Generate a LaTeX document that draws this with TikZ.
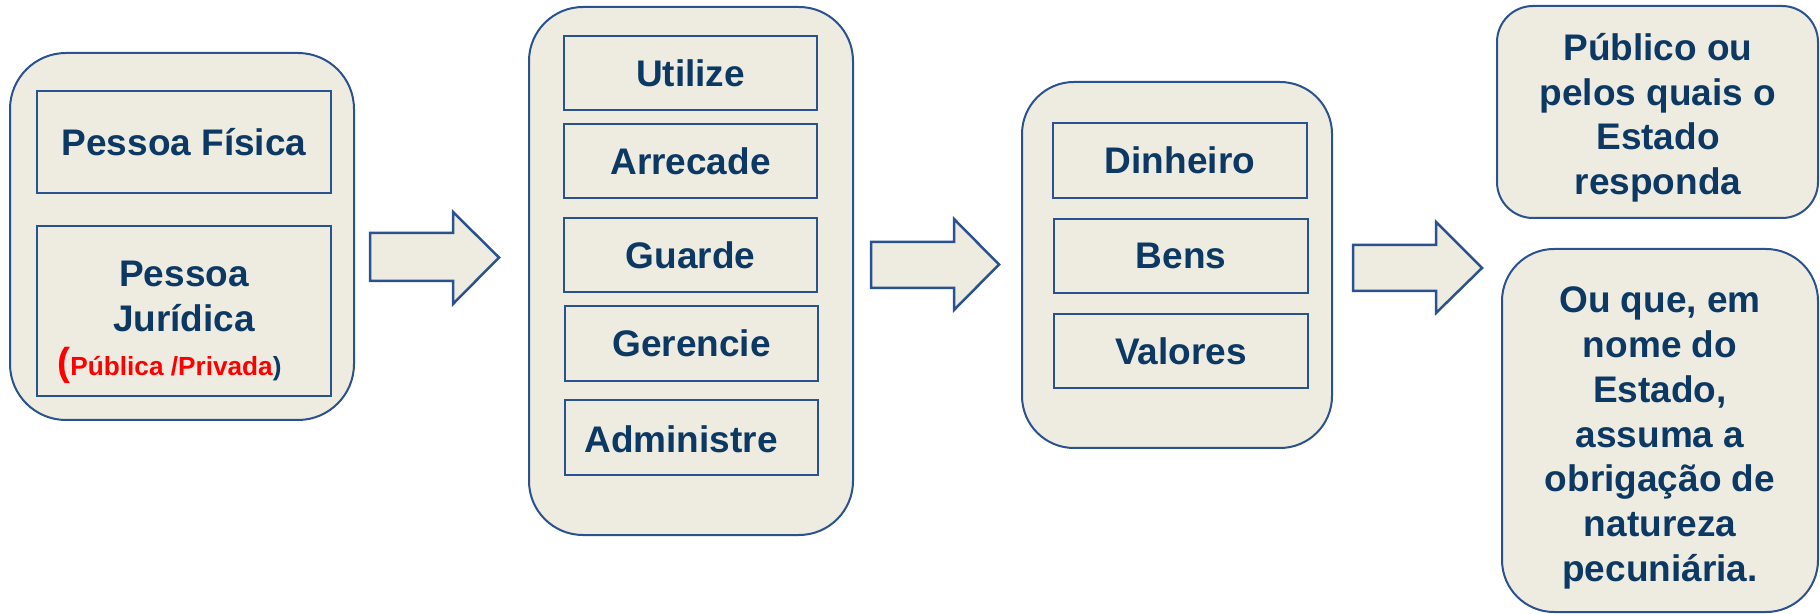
\documentclass[tikz,border=0pt]{standalone}
\usepackage{fontspec}
\setmainfont{Liberation Sans}
\usetikzlibrary{fit}
\definecolor{boxfill}{HTML}{EEEBE0}
\definecolor{boxline}{HTML}{2B5290}
\definecolor{txt}{HTML}{0C3864}
\definecolor{accent}{HTML}{FF0000}
\tikzset{
  panel/.style={draw=boxline, line width=1pt, fill=boxfill, inner sep=0pt, rounded corners=#1},
  item/.style={draw=boxline, line width=1pt, inner sep=0pt},
  words/.style={inner sep=0pt, text=txt, font=\bfseries\fontsize{18.5pt}{22.3pt}\selectfont},
  blockarrow/.style={draw=boxline, line width=1.25pt, fill=boxfill, line join=miter},
}
\begin{document}
\begin{tikzpicture}[x=0.5pt,y=-0.5pt]
\useasboundingbox (0,0) rectangle (1820,614);

% who
\node[panel=28pt, fit={(10,53)(354,420)}] (who) {};
\node[item, fit={(37,91)(331,193)}] (pf) {};
\node[words] (pf-t) at (pf.center) {Pessoa Física};
\node[item, fit={(37,226)(331,396)}] (pj) {};
\node[words, anchor=base] (pj1) at (184,287) {Pessoa};
\node[words, anchor=base] (pj2) at (184,332) {Jurídica};
\node[inner sep=0pt, anchor=base west, font=\bfseries] (pj3) at (57,376)
  {\textcolor{accent}{\fontsize{19.5pt}{22pt}\selectfont(}\textcolor{accent}{\fontsize{13.1pt}{15pt}\selectfont Pública /Privada}\textcolor{txt}{\fontsize{13.1pt}{15pt}\selectfont)}};

% actions
\node[panel=27pt, fit={(529,7)(853,535)}] (act) {};
\node[item, fit={(564,36)(817,110)}] (a1) {};
\node[item, fit={(564,124)(817,198)}] (a2) {};
\node[item, fit={(564,218)(817,292)}] (a3) {};
\node[item, fit={(565,306)(818,381)}] (a4) {};
\node[item, fit={(565,400)(818,475)}] (a5) {};
\node[words] (a1-t) at (a1.center) {Utilize};
\node[words] (a2-t) at (a2.center) {Arrecade};
\node[words] (a3-t) at (a3.center) {Guarde};
\node[words] (a4-t) at (a4.center) {Gerencie};
\node[words, anchor=base west] (a5-t) at (584,452) {Administre};

% objects
\node[panel=26pt, fit={(1022,82)(1332,448)}] (obj) {};
\node[item, fit={(1053,123)(1307,198)}] (o1) {};
\node[item, fit={(1054,219)(1308,293)}] (o2) {};
\node[item, fit={(1054,314)(1308,388)}] (o3) {};
\node[words] (o1-t) at (o1.center) {Dinheiro};
\node[words] (o2-t) at (o2.center) {Bens};
\node[words] (o3-t) at (o3.center) {Valores};

% scope
\node[panel=18pt, fit={(1497,6)(1818,218)}] (up) {};
\foreach \t [count=\i] in {Público ou, pelos quais o, Estado, responda}
  \node[words, anchor=base, name=up-\i] at (1658,{61+44.4*(\i-1)}) {\t};
\node[panel=26pt, fit={(1502,249)(1818,612)}] (low) {};
\foreach \t [count=\i] in {{Ou que, em}, nome do, {Estado,}, assuma a, obrigação de, natureza, pecuniária.}
  \node[words, anchor=base, name=low-\i] at (1660,{313+44.7*(\i-1)}) {\t};

% block arrows
\draw[blockarrow] (370,233) -- (453,233) -- (453,212) -- (499,257.5) -- (453,304) -- (453,281) -- (370,281) -- cycle;
\draw[blockarrow] (871,242) -- (954,242) -- (954,219) -- (999,264.5) -- (954,310) -- (954,288) -- (871,288) -- cycle;
\draw[blockarrow] (1353,245) -- (1436,245) -- (1436,222) -- (1482,268) -- (1436,313) -- (1436,291) -- (1353,291) -- cycle;
\end{tikzpicture}
\end{document}
